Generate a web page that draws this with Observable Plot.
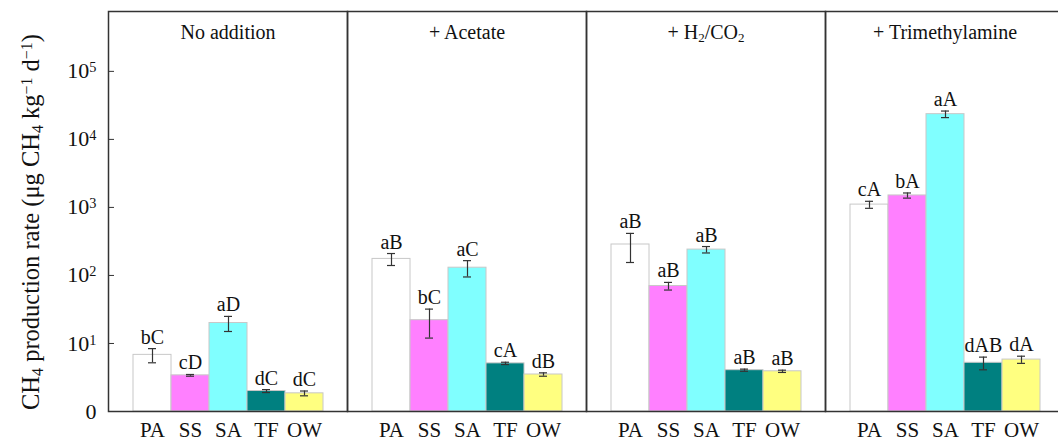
<!DOCTYPE html>
<html>
<head>
<meta charset="utf-8">
<script src="https://cdn.jsdelivr.net/npm/d3@7"></script>
<script src="https://cdn.jsdelivr.net/npm/@observablehq/plot@0.6"></script>
<style>
  html, body { margin: 0; padding: 0; background: #fff; overflow: hidden; }
  #chart svg { display: block; }
</style>
</head>
<body>
<div id="chart"></div>
<script>
// ---- data ----
const treatments = ["No addition", "+ Acetate", "+ H_{2}/CO_{2}", "+ Trimethylamine"];
const samples = ["PA", "SS", "SA", "TF", "OW"];
const sampleColors = ["#ffffff", "#ff80ff", "#80ffff", "#008080", "#ffff80"];

const noAdditionMean = [6.8, 3.4, 20, 2.0, 1.85];
const noAdditionErr  = [1.6, 0.1, 5, 0.1, 0.15];
const noAdditionLetters = ["bC", "cD", "aD", "dC", "dC"];

const acetateMean = [175, 22, 130, 5.1, 3.5];
const acetateErr  = [35, 10, 35, 0.2, 0.2];
const acetateLetters = ["aB", "bC", "aC", "cA", "dB"];

const h2co2Mean = [285, 70, 240, 4.05, 3.9];
const h2co2Err  = [130, 9, 26, 0.15, 0.15];
const h2co2Letters = ["aB", "aB", "aB", "aB", "aB"];

const tmaMean = [1100, 1500, 23500, 5.2, 5.8];
const tmaErr  = [130, 130, 2600, 1.1, 0.7];
const tmaLetters = ["cA", "bA", "aA", "dAB", "dA"];

const yTicks = [1, 10, 100, 1000, 10000, 100000];
const yLabel = "CH_{4} production rate (μg CH_{4} kg^{−1} d^{−1})";

// ---- table ----
const groups = [
  [noAdditionMean, noAdditionErr, noAdditionLetters],
  [acetateMean, acetateErr, acetateLetters],
  [h2co2Mean, h2co2Err, h2co2Letters],
  [tmaMean, tmaErr, tmaLetters]
];
const rows = [];
groups.forEach(([m, e, l], gi) => {
  samples.forEach((s, si) => {
    rows.push({treatment: treatments[gi], sample: s, mean: m[si], err: e[si], letter: l[si]});
  });
});

const serif = "'Liberation Serif', 'Times New Roman', serif";

const plot = Plot.plot({
  width: 1058,
  height: 443,
  marginLeft: 107,
  marginRight: -7,
  marginTop: 11,
  marginBottom: 32,
  style: {fontFamily: serif, fontSize: "20px", color: "#222", background: "#fff"},
  fx: {domain: treatments, padding: 0, axis: null},
  x: {domain: samples, paddingInner: 0, paddingOuter: 0.62, axis: null},
  y: {type: "log", domain: [1, Math.pow(10, 5.88)]},
  color: {domain: samples, range: sampleColors},
  marks: [
    Plot.barY(rows, {fx: "treatment", x: "sample", y1: 1, y2: "mean", fill: "sample", stroke: "#c8c8c8", strokeWidth: 1}),
    Plot.ruleX(rows, {fx: "treatment", x: "sample", y1: d => d.mean - d.err, y2: d => d.mean + d.err, stroke: "#333", strokeWidth: 1.2}),
    Plot.tickY(rows, {fx: "treatment", x: "sample", y: d => d.mean + d.err, stroke: "#333", strokeWidth: 1.2, insetLeft: 15, insetRight: 15}),
    Plot.tickY(rows, {fx: "treatment", x: "sample", y: d => d.mean - d.err, stroke: "#333", strokeWidth: 1.2, insetLeft: 15, insetRight: 15}),
    Plot.text(rows, {fx: "treatment", x: "sample", y: d => d.mean + d.err, text: "letter", lineAnchor: "bottom", dy: -5, fontSize: 20, fill: "#111"}),
    Plot.text(treatments, {fx: d => d, text: d => d, frameAnchor: "top", lineAnchor: "middle", dy: 21, fontSize: 20, fill: "#111"}),
    Plot.axisX({tickSize: 0, tickPadding: 11, fontSize: 21, label: null, fill: "#111"}),
    Plot.axisY({ticks: yTicks, tickSize: 6, dx: 6, tickFormat: () => "", label: null, stroke: "#333"}),
    Plot.axisY({ticks: yTicks, tickSize: 0, tickPadding: 12, fontSize: 22, fill: "#111",
      tickFormat: d => d === 1 ? "0" : "10^{" + Math.round(Math.log10(d)) + "}",
      label: null}),
    Plot.frame({stroke: "#333", strokeWidth: 1.5})
  ]
});

// rich text: ^{..} superscripts, _{..} subscripts
function richify(el) {
  const s = el.textContent;
  if (!/[_^]\{/.test(s)) return;
  while (el.firstChild) el.removeChild(el.firstChild);
  const re = /([_^])\{([^}]*)\}|([^_^]+)/g;
  let m;
  while ((m = re.exec(s))) {
    const t = document.createElementNS("http://www.w3.org/2000/svg", "tspan");
    if (m[3] !== undefined) {
      t.textContent = m[3];
    } else {
      t.textContent = m[2];
      t.setAttribute("font-size", "65%");
      t.setAttribute("baseline-shift", m[1] === "^" ? "45%" : "-25%");
    }
    el.appendChild(t);
  }
}

// y-axis title
const svg = d3.select(plot);
svg.append("text")
  .attr("transform", "translate(39,222) rotate(-90)")
  .attr("text-anchor", "middle")
  .attr("font-size", 24.5)
  .attr("fill", "#111")
  .text(yLabel);

svg.selectAll("text").each(function() { richify(this); });

document.getElementById("chart").appendChild(plot);
</script>
</body>
</html>
